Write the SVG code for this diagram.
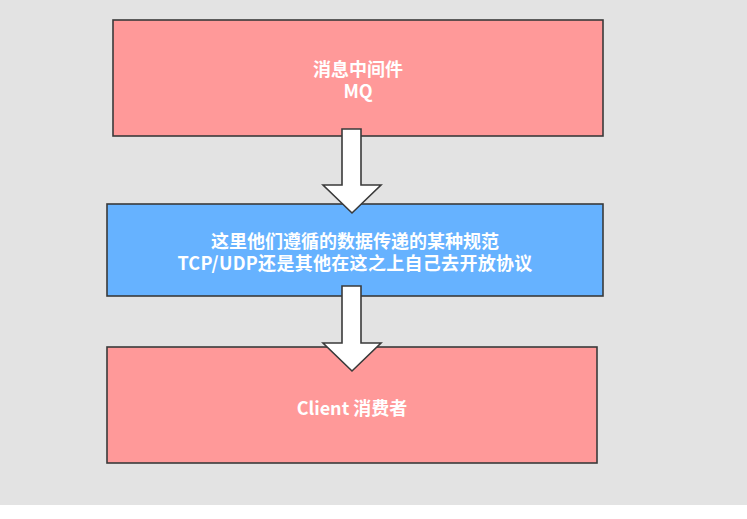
<svg xmlns="http://www.w3.org/2000/svg" width="747" height="519" viewBox="0 0 747 519">
<style>
.box{stroke:#3a3a3a;stroke-width:1.6}
.pink{fill:#ff9999}
.blue{fill:#66b2ff}
.arrow{fill:#ffffff;stroke:#3a3a3a;stroke-width:1.6;stroke-linejoin:miter}
.t{font-family:"Noto Sans CJK SC","Noto Sans",sans-serif;font-weight:bold;font-size:18px;fill:#ffffff;text-anchor:middle;dominant-baseline:central}
</style>
<rect x="0" y="0" width="747" height="505" fill="#e3e3e3"/>
<rect x="0" y="505" width="747" height="14" fill="#ffffff"/>
<g id="node-mq">
<rect class="box pink" x="113" y="20" width="490" height="116"/>
<text class="t"><tspan x="358" y="68">消息中间件</tspan><tspan x="358" y="90">MQ</tspan></text>
</g>
<g id="node-protocol">
<rect class="box blue" x="107" y="204" width="496" height="92"/>
<text class="t"><tspan x="355" y="240">这里他们遵循的数据传递的某种规范</tspan><tspan x="355" y="261.5" letter-spacing="0.3">TCP/UDP还是其他在这之上自己去开放协议</tspan></text>
</g>
<g id="node-client">
<rect class="box pink" x="107" y="347" width="490" height="116"/>
<text class="t" x="352" y="407">Client 消费者</text>
</g>
<g id="connectors">
<polygon class="arrow" points="342,129 361,129 361,185 381,185 352,213 323,185 342,185"/>
<polygon class="arrow" points="342,286 361,286 361,343 381,343 352,371 323,343 342,343"/>
</g>
</svg>
